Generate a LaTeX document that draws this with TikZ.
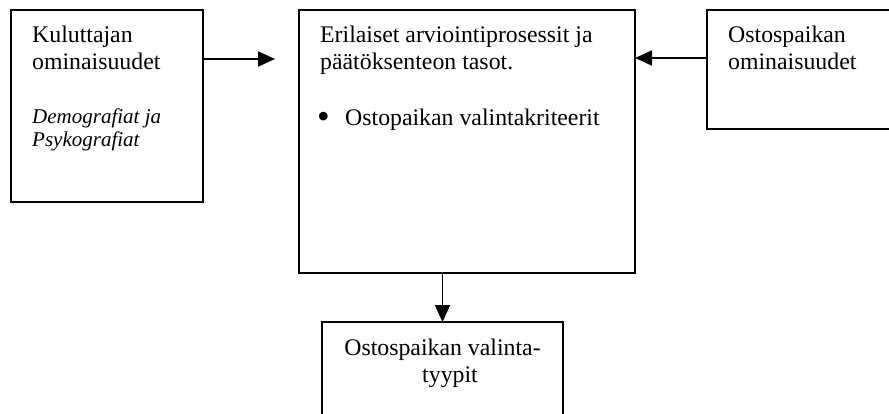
\documentclass[tikz,border=0pt]{standalone}
\usepackage{fontspec}
\setmainfont{Liberation Serif}
\usetikzlibrary{arrows.meta}
\begin{document}
\begin{tikzpicture}[x=1pt,y=-1pt,
  box/.style={draw, line width=1.8pt, inner sep=0pt, outer sep=0pt, anchor=north west},
  txt/.style={anchor=base west, inner sep=0pt, font=\fontsize{23.8}{27}\selectfont},
  ctxt/.style={txt, anchor=base},
  itxt/.style={txt, font=\fontsize{21}{24}\selectfont\itshape},
  bul/.style={anchor=center, inner sep=0pt, font=\fontsize{36}{36}\selectfont},
  arr/.style={line width=1.8pt, -{Triangle[length=17pt,width=15pt]}}]
\useasboundingbox (0,0) rectangle (889,414);
\clip (0,0) rectangle (889,414);
% boxes
\node[box, minimum width=192pt, minimum height=192pt] (L) at (11,10) {};
\node[box, minimum width=336pt, minimum height=263pt] (C) at (299,10) {};
\node[box, minimum width=200pt, minimum height=119pt] (R) at (707,10) {};
\node[box, minimum width=241pt, minimum height=110pt] (B) at (322,322) {};
% texts
\node[txt] (l1) at (32,43) {Kuluttajan};
\node[txt] (l2) at (32,70) {ominaisuudet};
\node[itxt] (l3) at (32,124) {Demografiat ja};
\node[itxt] (l4) at (32,147) {Psykografiat};
\node[txt] (c1) at (320,43) {Erilaiset arviointiprosessit ja};
\node[txt] (c2) at (320,70) {päätöksenteon tasot.};
\node[bul] (cb) at (323.5,120) {•};
\node[txt] (c3) at (345,126) {Ostopaikan valintakriteerit};
\node[txt] (r1) at (728,43) {Ostospaikan};
\node[txt] (r2) at (728,70) {ominaisuudet};
\node[ctxt] (b1) at (442.5,355) {Ostospaikan valinta-};
\node[ctxt] (b2) at (450,382) {tyypit};
% connectors
\coordinate (la) at (275,59);
\coordinate (ra) at (707,58);
\draw[arr] (L.east |- la) -- (la);
\draw[arr] (R.west |- ra) -- (C.east |- ra);
\draw[arr] (B.north |- C.south) -- (B.north);
\end{tikzpicture}
\end{document}
